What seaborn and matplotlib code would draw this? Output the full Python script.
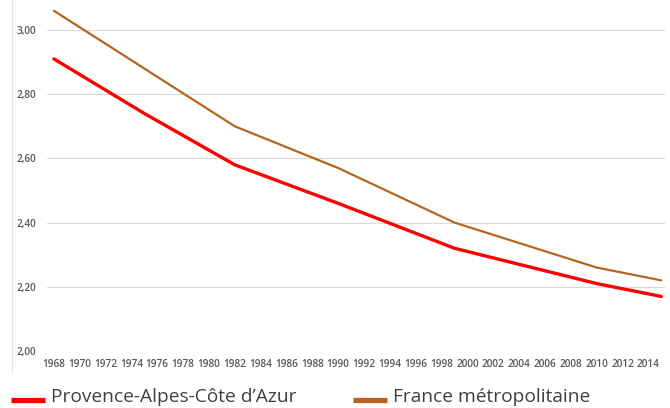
import matplotlib
matplotlib.use('Agg')
import matplotlib.pyplot as plt
from matplotlib.lines import Line2D
import seaborn as sns
import pandas as pd

# census years and average household size
years = [1968, 1975, 1982, 1990, 1999, 2010, 2015]
paca = [2.91, 2.74, 2.58, 2.46, 2.32, 2.21, 2.17]
france = [3.06, 2.88, 2.70, 2.57, 2.40, 2.26, 2.22]
series_names = ['Provence-Alpes-Côte d\u2019Azur', 'France métropolitaine']
series_colors = ['#FF0000', '#B5651D']
y_ticks = [2.0, 2.2, 2.4, 2.6, 2.8, 3.0]
x_ticks = list(range(1968, 2015, 2))

# long-form table for seaborn
df = pd.DataFrame({
    'annee': years * 2,
    'taille': paca + france,
    'zone': [series_names[0]] * len(years) + [series_names[1]] * len(years),
})

sns.set_style('white')
plt.rcParams['font.family'] = ['Open Sans', 'DejaVu Sans']

W, H = 670, 408
fig = plt.figure(figsize=(W / 100, H / 100), dpi=100)
ax = fig.add_axes([0.070, 0.1397, 0.923, 0.8603])

sns.lineplot(data=df, x='annee', y='taille', hue='zone', palette=series_colors,
             hue_order=series_names, ax=ax, legend=False)
# thicker red line, thinner brown one
ax.lines[0].set_linewidth(2.4)
ax.lines[1].set_linewidth(1.6)

ax.set_xlim(1967.46, 2015.31)
ax.set_ylim(2.0, 3.0935)
ax.set_yticks(y_ticks)
ax.set_yticklabels(['{:.2f}'.format(v).replace('.', ',') for v in y_ticks])
ax.set_xticks(x_ticks)
ax.set_xticklabels([str(x) for x in x_ticks])
ax.tick_params(axis='both', length=0, labelsize=7.2, labelcolor='#595959')
ax.tick_params(axis='y', pad=8)
ax.tick_params(axis='x', pad=6)
for lab in ax.get_xticklabels() + ax.get_yticklabels():
    lab.set_fontweight('semibold')

ax.grid(axis='y', color='#d9d9d9', linewidth=0.8)
for side in ax.spines.values():
    side.set_visible(False)
ax.set_xlabel('')
ax.set_ylabel('')

# faint frame line on the left
fig.add_artist(Line2D([12 / W, 12 / W], [1.0, 1 - 372 / H], color='#e6e6e6', linewidth=0.8))

# legend below the plot, drawn by hand to match spacing
leg_y = 1 - 400 / H
text_base = 1 - 402.5 / H
leg_items = [(11, 45, 51), (353, 387, 393)]
for (x0, x1, xt), name, col in zip(leg_items, series_names, series_colors):
    fig.add_artist(Line2D([x0 / W, x1 / W], [leg_y, leg_y], color=col, linewidth=3.8,
                          solid_capstyle='butt'))
    fig.text(xt / W, text_base, name, fontsize=13.8, color='#404040', va='baseline', ha='left')

plt.savefig('out.png', dpi=100)
